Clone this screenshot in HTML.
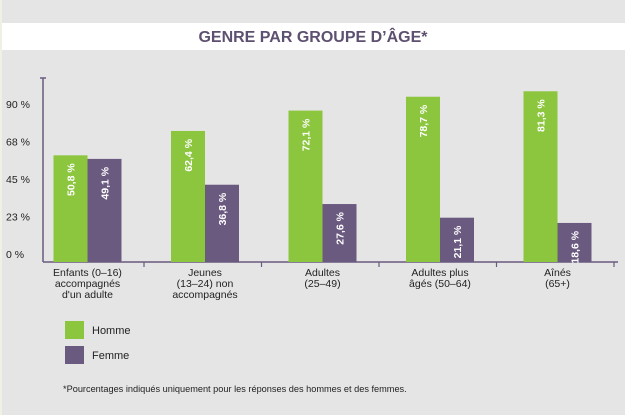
<!DOCTYPE html>
<html><head><meta charset="utf-8"><style>
body{margin:0;background:#e5e5e5;}
svg{display:block;font-family:"Liberation Sans",sans-serif;}
</style></head><body>
<svg id="c" width="625" height="415" viewBox="0 0 625 415">
<rect x="0" y="0" width="625" height="415" fill="#e5e5e5"/>
<rect x="0" y="0" width="2" height="415" fill="#eef2e2"/>
<rect x="2" y="23" width="623" height="27" fill="#ffffff"/>
<text x="313" y="42" text-anchor="middle" font-size="16" font-weight="bold" fill="#5e5070">GENRE PAR GROUPE D’ÂGE*</text>
<g id="axes"></g>
<g id="bars"></g>
<g>
<rect x="65" y="321" width="19" height="18" fill="#8cc63f"/>
<text x="92" y="334" font-size="11" fill="#222">Homme</text>
<rect x="65" y="346" width="19" height="18" fill="#6b5a80"/>
<text x="92" y="359" font-size="11" fill="#222">Femme</text>
</g>
<text x="63" y="392" font-size="9.2" fill="#222">*Pourcentages indiqués uniquement pour les réponses des hommes et des femmes.</text>
</svg>
<script>
const categories=[["Enfants (0–16)","accompagnés","d'un adulte"],["Jeunes","(13–24) non","accompagnés"],["Adultes","(25–49)"],["Adultes plus","âgés (50–64)"],["Aînés","(65+)"]];
const homme=[50.8,62.4,72.1,78.7,81.3];
const femme=[49.1,36.8,27.6,21.1,18.6];
const tickLabels=["0 %","23 %","45 %","68 %","90 %"];
const NS="http://www.w3.org/2000/svg";
const base=262, pxPer=2.1, x0=43, groupW=117.5, barW=34, firstCenter=87.5;
function y(v){return base-v*pxPer;}
function gx(i){return firstCenter+groupW*i;}
function mk(tag,attrs,parent){const e=document.createElementNS(NS,tag);for(const k in attrs)e.setAttribute(k,attrs[k]);parent.appendChild(e);return e;}
const axes=document.getElementById('axes'), bars=document.getElementById('bars');
const ya=mk('line',{x1:x0,y1:78,x2:x0,y2:base,stroke:'#6b5a80','stroke-width':1.5},axes);


const yt=mk('line',{x1:x0-3,y1:78,x2:x0+3,y2:78,stroke:'#6b5a80','stroke-width':1.5},axes);


const xa=mk('line',{x1:x0,y1:base,x2:618,y2:base,stroke:'#6b5a80','stroke-width':1.5},axes);


tickLabels.forEach((t,i)=>{
  const e=mk('text',{x:6,y:base-4-i*37.5,'font-size':10.5,fill:'#222'},axes);
  e.textContent=t;
  
  
});
categories.forEach((lines,i)=>{
  const tx=gx(i)+56.5;
  const tk=mk('line',{x1:tx,y1:base,x2:tx,y2:base+5,stroke:'#6b5a80','stroke-width':1.2},axes);
  
  
  const t=mk('text',{x:gx(i),y:base+14,'text-anchor':'middle','font-size':10.5,fill:'#222'},axes);
  
  
  lines.forEach((l,j)=>{const s=mk('tspan',{x:gx(i),dy:j?11:0},t);s.textContent=l;});
  [[homme[i],'#8cc63f',-barW,'bar-homme'],[femme[i],'#6b5a80',0,'bar-femme']].forEach(([v,c,off,nm])=>{
    const cx=gx(i)+off;
    const r=mk('rect',{x:cx,y:y(v),width:barW,height:base-y(v),fill:c},bars);
    
    
    const lx=cx+barW/2+4, ly=y(v)+8;
    const lb=mk('text',{x:lx,y:ly,'text-anchor':'end','font-size':10.5,'font-weight':'bold',fill:'#fff',transform:`rotate(-90 ${lx} ${ly})`},bars);
    lb.textContent=v.toFixed(1).replace('.',',')+' %';
    
    
  });
});
</script>
</body></html>
